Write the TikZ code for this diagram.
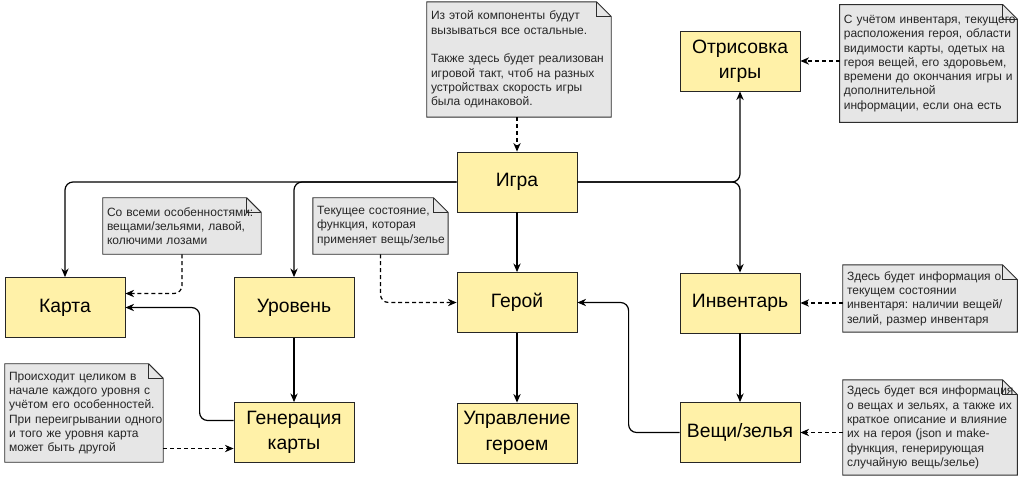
\documentclass[tikz,border=0pt]{standalone}
\usepackage{fontspec}
\setmainfont{Liberation Sans}
\usetikzlibrary{backgrounds, arrows.meta}

\definecolor{blkfill}{RGB}{255,241,168}
\definecolor{ntfill}{RGB}{230,230,230}
\definecolor{ntline}{RGB}{45,45,45}

\frenchspacing

\begin{document}
\begin{tikzpicture}[x=0.75pt, y=-0.75pt,
    blk/.style={rectangle, draw=black!85, fill=blkfill, line width=0.6pt,
                minimum width=90pt, minimum height=45pt, inner sep=0pt,
                align=center, font=\fontsize{14.5}{19}\selectfont},
    nt/.style={rectangle, inner xsep=3pt, inner ysep=2pt, align=left,
               font=\fontsize{9}{10.7}\selectfont, text=black!85},
    arr/.style={-{Stealth[length=6.5pt, width=5.5pt]}, line width=0.9pt,
                rounded corners=6pt},
    dsh/.style={arr, dash pattern=on 3pt off 2.2pt}
  ]
  \useasboundingbox (0,0) rectangle (1019,486);
  % -- blocks --
  \node[blk] (game)   at (517,182)   {Игра};
  \node[blk] (render) at (740,61)    {Отрисовка\\игры};
  \node[blk] (map)    at (65,307.5)  {Карта};
  \node[blk] (level)  at (294,307.5) {Уровень};
  \node[blk] (hero)   at (517,302.5) {Герой};
  \node[blk] (inv)    at (740,303)   {Инвентарь};
  \node[blk] (gen)    at (294,432.5) {Генерация\\карты};
  \node[blk] (ctrl)   at (517,433)   {Управление\\героем};
  \node[blk] (items)  at (740,432.5) {Вещи/зелья};
  % -- notes --
  \node[nt, minimum width=138pt, minimum height=86pt, text width=132pt] (nGame) at (519,59.5)
    {Из этой компоненты будут\\вызываться все остальные.\\[10.7pt]
     Также здесь будет реализован\\игровой такт, чтоб на разных\\
     устройствах скорость игры\\была одинаковой.};
  \node[nt, minimum width=133pt, minimum height=88pt, text width=127pt] (nRender) at (928.5,63.5)
    {\mbox{С учётом инвентаря, текущего}\\расположения героя, области\\
     видимости карты, одетых на\\героя вещей, его здоровьем,\\
     времени до окончания игры и\\дополнительной\\информации, если она есть};
  \node[nt, minimum width=118.5pt, minimum height=42pt, text width=112.5pt] (nMap) at (182,226)
    {\mbox{Со всеми особенностями:}\\вещами/зельями, лавой,\\колючими лозами};
  \node[nt, minimum width=101pt, minimum height=42pt, text width=95pt] (nHero) at (380.5,226)
    {Текущее состояние,\\функция, которая\\\mbox{применяет вещь/зелье}};
  \node[nt, minimum width=118.5pt, minimum height=73.5pt, text width=112.5pt] (nGen) at (84,413)
    {Происходит целиком в\\начале каждого уровня с\\учётом его особенностей.\\
     \mbox{При переигрывании одного}\\и того же уровня карта\\может быть другой};
  \node[nt, minimum width=130.5pt, minimum height=50pt, text width=124.5pt] (nInv) at (930,298.5)
    {\mbox{Здесь будет информация о}\\текущем состоянии\\
     \mbox{инвентаря: наличии вещей/}\\зелий, размер инвентаря};
  \node[nt, minimum width=130.5pt, minimum height=71pt, text width=124.5pt] (nItems) at (930,427.5)
    {\mbox{Здесь будет вся информация}\\\mbox{о вещах и зельях, а также их}\\
     \mbox{краткое описание и влияние}\\их на героя (json и make-\\
     функция, генерирующая\\случайную вещь/зелье)};
  % note sheets with folded corner, behind the text
  \begin{scope}[on background layer]
    \foreach \n in {nGame,nRender,nMap,nHero,nGen,nInv,nItems}{
      \filldraw[draw=ntline, fill=ntfill, line width=0.7pt]
        (\n.south west) -- (\n.north west) -- ([xshift=-11pt]\n.north east)
        -- ([yshift=-11pt]\n.north east) -- (\n.south east) -- cycle;
      \draw[ntline, line width=0.7pt]
        ([xshift=-11pt]\n.north east) |- ([yshift=-11pt]\n.north east);
    }
  \end{scope}
  % -- solid connectors --
  \draw[arr] (game.west) -| (map.north);
  \draw[arr] (game.west) -| (level.north);
  \draw[arr] (game) -- (hero);
  \draw[arr] (game.east) -| (render.south);
  \draw[arr] (game.east) -| (inv.north);
  \draw[arr] (level) -- (gen);
  \draw[arr] (hero) -- (ctrl);
  \draw[arr] (inv) -- (items);
  \draw[arr] (items.west) -- ++(-51,0) |- (hero.east);
  \draw[arr] ([yshift=9pt]gen.west) -- ++(-34,0) |- (map.east);
  % -- dashed note links --
  \coordinate (genIn) at ([yshift=-12pt]gen.west);
  \draw[dsh] (nGame.south -| game.north) -- (game.north);
  \draw[dsh] (nMap.south) |- ([yshift=10.5pt]map.east);
  \draw[dsh] (nHero.south) |- (hero.west);
  \draw[dsh] (nRender.west |- render.east) -- (render.east);
  \draw[dsh] (nInv.west |- inv.east) -- (inv.east);
  \draw[dsh] (nItems.west |- items.east) -- (items.east);
  \draw[dsh] (nGen.east |- genIn) -- (genIn);
\end{tikzpicture}
\end{document}
